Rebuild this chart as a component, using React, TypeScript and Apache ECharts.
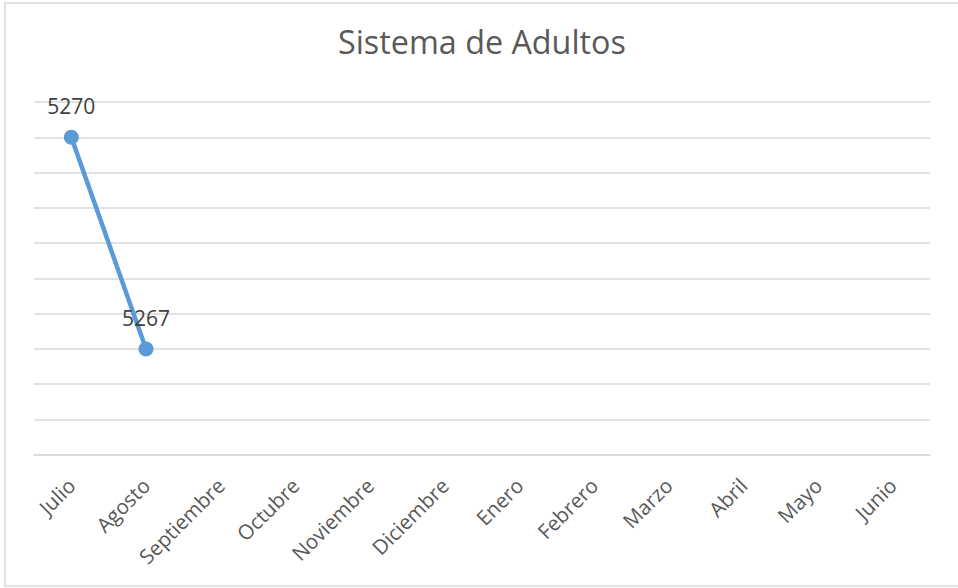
import React, { useEffect, useRef } from "react";
import * as echarts from "echarts";

const chartTitle = "Sistema de Adultos";
const months = [
  "Julio", "Agosto", "Septiembre", "Octubre", "Noviembre", "Diciembre",
  "Enero", "Febrero", "Marzo", "Abril", "Mayo", "Junio",
];
const adultos: (number | null)[] = [5270, 5267, null, null, null, null, null, null, null, null, null, null];
const yMin = 5265.5;
const yMax = 5270.5;
const yStep = 0.5;

const FONT = "'Open Sans', 'Noto Sans', sans-serif";
const TEXT = "#595959";
const GRID = "#D9D9D9";
const BLUE = "#5B9BD5";

export default function App() {
  const ref = useRef<HTMLDivElement>(null);
  useEffect(() => {
    if (!ref.current) return;
    const chart = echarts.init(ref.current, undefined, { renderer: "svg" });
    chart.setOption({
      animation: false,
      backgroundColor: "#ffffff",
      textStyle: { fontFamily: FONT },
      title: {
        text: chartTitle,
        left: 333,
        top: 20,
        textStyle: { fontFamily: FONT, fontSize: 32.3, fontWeight: "normal", color: TEXT },
      },
      graphic: [
        {
          type: "rect",
          shape: { x: 5, y: 3, width: 965, height: 583 },
          style: { fill: "none", stroke: GRID, lineWidth: 1.5 },
          silent: true,
        },
      ],
      grid: { left: 34, right: 28, top: 102, bottom: 133.3, containLabel: false },
      xAxis: {
        type: "category",
        data: months,
        boundaryGap: true,
        axisLine: { show: true, lineStyle: { color: GRID, width: 1.5 } },
        axisTick: { show: false },
        axisLabel: {
          rotate: 45,
          interval: 0,
          margin: 27,
          fontFamily: FONT,
          fontSize: 20.5,
          color: TEXT,
        },
      },
      yAxis: {
        type: "value",
        min: yMin,
        max: yMax,
        interval: yStep,
        axisLine: { show: false },
        axisTick: { show: false },
        axisLabel: { show: false },
        splitLine: { show: true, lineStyle: { color: GRID, width: 1.5 } },
      },
      series: [
        {
          type: "line",
          data: adultos,
          connectNulls: false,
          symbol: "circle",
          symbolSize: 15,
          itemStyle: { color: BLUE },
          lineStyle: { color: BLUE, width: 4.5 },
          label: {
            show: true,
            position: "top",
            distance: 13,
            fontFamily: FONT,
            fontSize: 21,
            color: "#404040",
          },
        },
      ],
    });
    return () => chart.dispose();
  }, []);
  return (
    <div
      ref={ref}
      style={{ position: "absolute", left: 0, top: 0, width: 958, height: 588 }}
    />
  );
}
